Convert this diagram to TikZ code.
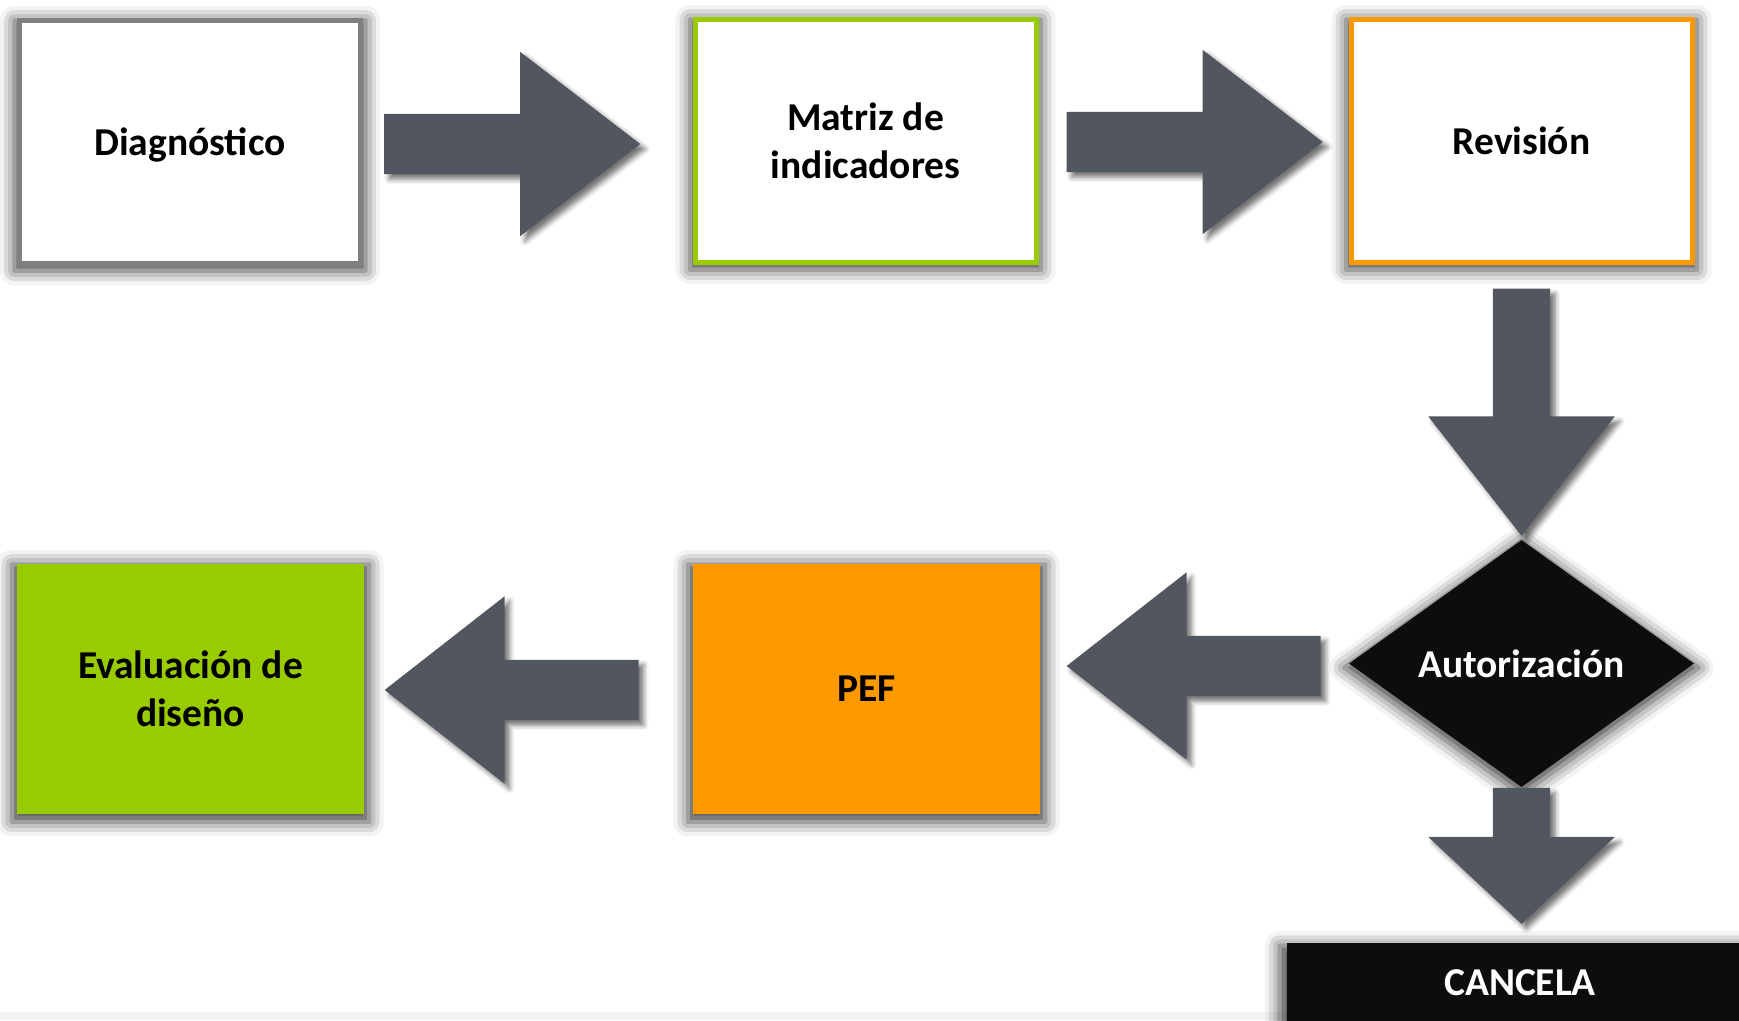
\documentclass[tikz,border=0pt]{standalone}
\usepackage{fontspec}
\setmainfont{Carlito}
\usetikzlibrary{shapes.geometric,shapes.arrows,shadows.blur,calc}
\definecolor{arrowgray}{RGB}{82,87,95}
\definecolor{boxgreen}{RGB}{153,204,0}
\definecolor{boxorange}{RGB}{255,153,0}
\definecolor{bordergray}{RGB}{128,128,128}
\definecolor{nearblack}{RGB}{13,13,13}
\definecolor{stripcol}{RGB}{245,244,249}
\begin{document}
\begin{tikzpicture}[x=1pt,y=-1pt,
  boxshadow/.style={blur shadow={shadow xshift=0pt, shadow yshift=-4pt, shadow scale=1.03, shadow blur radius=14pt, shadow opacity=75}},
  arrowshadow/.style={blur shadow={shadow xshift=5pt, shadow yshift=-5pt, shadow blur radius=5pt, shadow opacity=55}},
  boxtext/.style={font=\fontsize{39.5}{48}\selectfont\bfseries, align=center},
  procbox/.style={rectangle, inner sep=0pt, line width=5pt, minimum width=341pt, minimum height=243pt, fill=white, boxtext, boxshadow},
  fillbox/.style={rectangle, inner sep=0pt, minimum width=347pt, minimum height=250pt, boxtext, boxshadow},
  blockarrow/.style={single arrow, fill=arrowgray, draw=none, inner xsep=0pt, inner ysep=30pt, single arrow head extend=62pt, anchor=tail, arrowshadow},
  downarrow/.style={blockarrow, rotate=-90, inner ysep=28.5pt, single arrow head extend=64.5pt}
]
\useasboundingbox (0,0) rectangle (1739,1020);
\clip (0,0) rectangle (1739,1020);
\fill[stripcol] (0,1012) rectangle (1739,1020);

% boxes
\node[procbox, draw=bordergray, text depth=0pt, text height=27pt] (diag) at (190,141.5) {Diagnóstico};
\node[procbox, draw=boxgreen] (matriz) at (865.5,140.5) {Matriz de\\indicadores};
\node[procbox, draw=boxorange] (rev) at (1521.5,140.5) {Revisión};
\node[diamond, fill=nearblack, text=white, inner sep=0pt, minimum width=345pt, minimum height=247pt, boxtext, boxshadow] (aut) at (1521.5,663.5) {Autorización};
\node[fillbox, fill=boxorange] (pef) at (866.5,689) {PEF};
\node[fillbox, fill=boxgreen] (eval) at (190.5,689) {Evaluación de\\diseño};
\node[rectangle, fill=nearblack, text=white, inner sep=0pt, minimum width=470pt, minimum height=120pt, anchor=north, boxshadow] (canc) at (1521.5,943) {};
\node[boxtext, text=white] (canctxt) at (1520,983) {CANCELA};

% arrows
\node[blockarrow, minimum height=256pt, single arrow tip angle=75] (a1) at ($(diag.east)+(21,2.5)$) {};
\node[blockarrow, minimum height=256pt, single arrow tip angle=75] (a2) at ($(matriz.east)+(28,1.5)$) {};
\node[downarrow, minimum height=247pt, single arrow tip angle=76] (a3) at ($(rev.south)+(0,24)$) {};
\node[blockarrow, rotate=180, minimum height=254pt, single arrow head extend=63.5pt, single arrow tip angle=76] (a4) at ($(aut.west)+(-28,2.5)$) {};
\node[blockarrow, rotate=180, minimum height=254pt, single arrow head extend=63.5pt, single arrow tip angle=76] (a5) at ($(pef.west)+(-54,1)$) {};
\node[downarrow, minimum height=136pt, single arrow tip angle=94] (a6) at ($(aut.south)+(0,0.5)$) {};
\end{tikzpicture}
\end{document}
